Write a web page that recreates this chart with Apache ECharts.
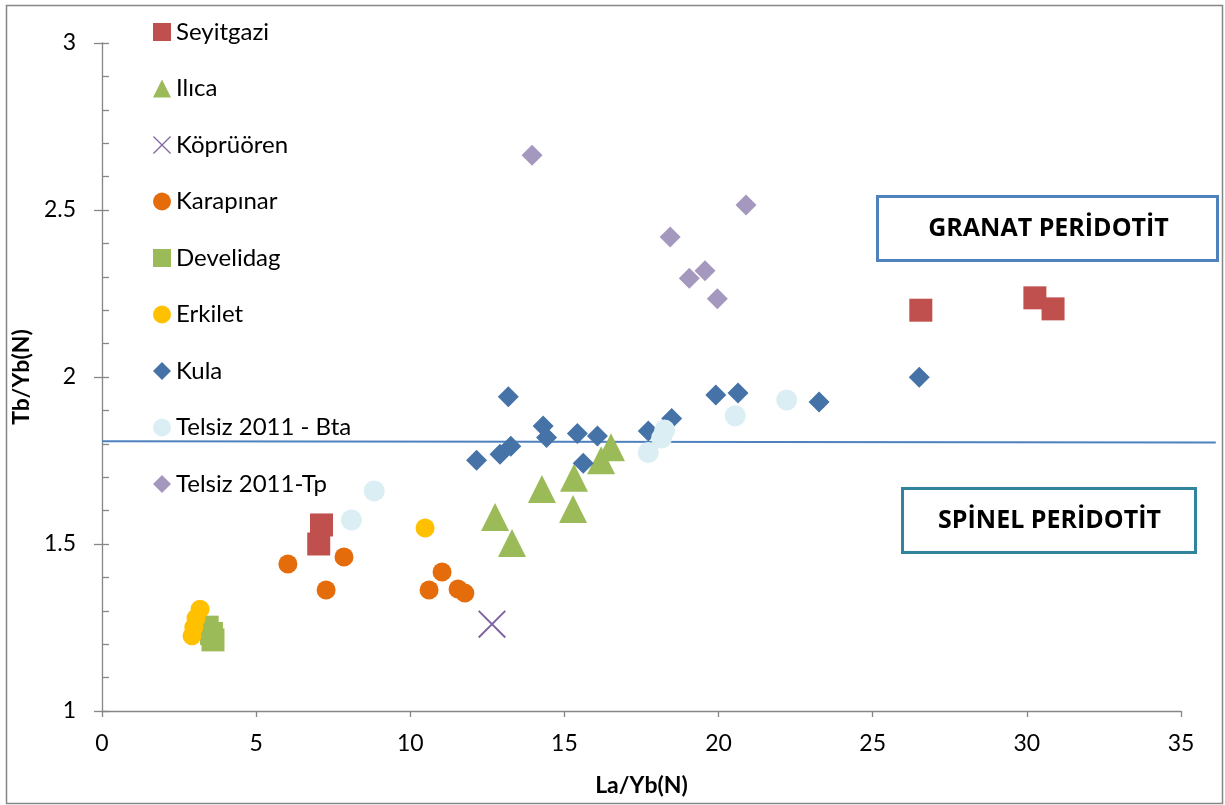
<!DOCTYPE html>
<html><head><meta charset="utf-8">
<script src="https://cdn.jsdelivr.net/npm/echarts@6/dist/echarts.min.js"></script>
<style>html,body{margin:0;padding:0;background:#fff}#c{width:1225px;height:805px}</style>
</head><body><div id="c"></div>
<script>
// ---- data (La/Yb(N), Tb/Yb(N)) ----
const seyitgazi = [[7.12,1.557],[7.03,1.500],[26.56,2.200],[30.26,2.237],[30.85,2.204]];
const ilica = [[12.75,1.581],[13.30,1.503],[14.27,1.665],[15.31,1.698],[15.28,1.605],[16.19,1.751],[16.51,1.790]];
const koprucoren = [[12.65,1.260]];
const karapinar = [[6.03,1.440],[7.85,1.461],[7.27,1.362],[11.03,1.416],[10.61,1.362],[11.55,1.365],[11.77,1.353]];
const develidag = [[3.41,1.251],[3.55,1.232],[3.60,1.213]];
const erkilet = [[3.18,1.305],[3.05,1.278],[2.98,1.251],[2.92,1.225],[10.48,1.548]];
const kula = [[12.15,1.751],[12.91,1.769],[13.26,1.793],[13.18,1.941],[14.31,1.853],[14.42,1.819],[15.42,1.831],[15.61,1.742],[16.07,1.823],[17.72,1.838],[18.48,1.876],[19.91,1.946],[20.63,1.952],[23.26,1.925],[26.51,1.999]];
const telsizBta = [[8.09,1.572],[8.83,1.659],[17.72,1.774],[18.15,1.817],[18.25,1.841],[20.54,1.884],[22.21,1.931]];
const telsizTp = [[13.95,2.664],[20.89,2.515],[18.43,2.419],[19.56,2.318],[19.05,2.296],[19.96,2.234]];
const boundaryLine = [[0,1.808],[36.13,1.804]];
const seriesNames = ['Seyitgazi','Ilıca','Köprüören','Karapınar','Develidag','Erkilet','Kula','Telsiz 2011 - Bta','Telsiz 2011-Tp'];
const xTicks = [0,5,10,15,20,25,30,35];
const yTicks = [1,1.5,2,2.5,3];
const boxLabels = ['GRANAT PERİDOTİT','SPİNEL PERİDOTİT'];

const FONT = 'Lato, "Open Sans", sans-serif';
const BOXFONT = '"Open Sans", Lato, sans-serif';
const xPath = 'path://M0,0.5L0.5,0L10,9.5L9.5,10Z M9.5,0L10,0.5L0.5,10L0,9.5Z';

function sc(name, data, symbol, size, color) {
  return { type:'scatter', name, data, symbol, symbolSize:size, itemStyle:{color, opacity:1}, emphasis:{disabled:true}, z:2 };
}

const chart = echarts.init(document.getElementById('c'), null, {renderer:'canvas'});
const axisGray = '#868686';
const staticGraphics = [
  { type:'rect', id:'frame', left:4, top:3, shape:{width:1216, height:798}, style:{fill:'none', stroke:axisGray, lineWidth:1.5}, silent:true, z:-1 },
  { type:'group', id:'box1', left:876, top:195, z:3, children:[
    { type:'rect', shape:{x:0, y:0, width:340, height:64}, style:{fill:'#fff', stroke:'#4F81BD', lineWidth:3} },
    { type:'text', x:171, y:32, style:{text:boxLabels[0], fill:'#000', font:'bold 25px '+BOXFONT, align:'center', verticalAlign:'middle'} }
  ]},
  { type:'group', id:'box2', left:901, top:487, z:3, children:[
    { type:'rect', shape:{x:0, y:0, width:293, height:64}, style:{fill:'#fff', stroke:'#31849B', lineWidth:3} },
    { type:'text', x:147, y:32, style:{text:boxLabels[1], fill:'#000', font:'bold 25px '+BOXFONT, align:'center', verticalAlign:'middle'} }
  ]}
];
chart.setOption({
  animation:false,
  backgroundColor:'#fff',
  grid:{left:102, right:44, top:43, bottom:94, containLabel:false},
  xAxis:{
    type:'value', min:xTicks[0], max:xTicks[xTicks.length-1], interval:5,
    name:'La/Yb(N)', nameLocation:'middle', nameGap:63,
    nameTextStyle:{fontFamily:FONT, fontWeight:'bold', fontSize:23, color:'#000'},
    axisLine:{show:true, onZero:false, lineStyle:{color:axisGray, width:1.3}},
    axisTick:{show:true, length:6, lineStyle:{color:axisGray, width:1.3}},
    axisLabel:{fontFamily:FONT, fontSize:23, color:'#000', margin:21},
    splitLine:{show:false}
  },
  yAxis:[{
    type:'value', min:yTicks[0], max:yTicks[yTicks.length-1], interval:0.5,
    name:'Tb/Yb(N)', nameLocation:'middle', nameGap:60, nameRotate:90,
    nameTextStyle:{fontFamily:FONT, fontWeight:'bold', fontSize:23, color:'#000'},
    axisLine:{show:true, onZero:false, lineStyle:{color:axisGray, width:1.3}},
    axisTick:{show:true, length:8, lineStyle:{color:axisGray, width:1.3}},
    axisLabel:{fontFamily:FONT, fontSize:23, color:'#000', margin:26},
    splitLine:{show:false}
  },{
    type:'value', min:yTicks[0], max:yTicks[yTicks.length-1], interval:0.5, position:'left',
    axisLine:{show:false},
    axisTick:{show:true, inside:true, length:7, lineStyle:{color:axisGray, width:1.3}},
    minorTick:{show:true, splitNumber:5, length:7, lineStyle:{color:axisGray, width:1.3}},
    axisLabel:{show:false}, splitLine:{show:false}
  }],
  legend:{
    orient:'vertical', left:153, top:20, padding:0, itemWidth:18, itemHeight:18, itemGap:32.5,
    data:seriesNames, selectedMode:false,
    textStyle:{fontFamily:FONT, fontSize:24, color:'#000'}
  },
  series:[
    sc(seriesNames[0], seyitgazi, 'rect', 23, '#C0504D'),
    sc(seriesNames[1], ilica, 'triangle', 28, '#9BBB59'),
    sc(seriesNames[2], koprucoren, xPath, 28, '#8064A2'),
    sc(seriesNames[3], karapinar, 'circle', 19, '#E46C0A'),
    sc(seriesNames[4], develidag, 'rect', 23, '#9BBB59'),
    sc(seriesNames[5], erkilet, 'circle', 19, '#FFC000'),
    sc(seriesNames[6], kula, 'diamond', 21, '#4572A7'),
    sc(seriesNames[7], telsizBta, 'circle', 21, '#DAEEF3'),
    sc(seriesNames[8], telsizTp, 'diamond', 21, '#A598BF')
  ],
  graphic: staticGraphics
});
// boundary line: positions come from the chart's own axis scales
const pts = boundaryLine.map(p => chart.convertToPixel({xAxisIndex:0, yAxisIndex:0}, p));
chart.setOption({
  graphic: staticGraphics.concat([
    { type:'polyline', id:'boundary', z:2, silent:true, shape:{points:pts}, style:{stroke:'#4F81BD', lineWidth:2, fill:'none'} }
  ])
});
</script></body></html>
